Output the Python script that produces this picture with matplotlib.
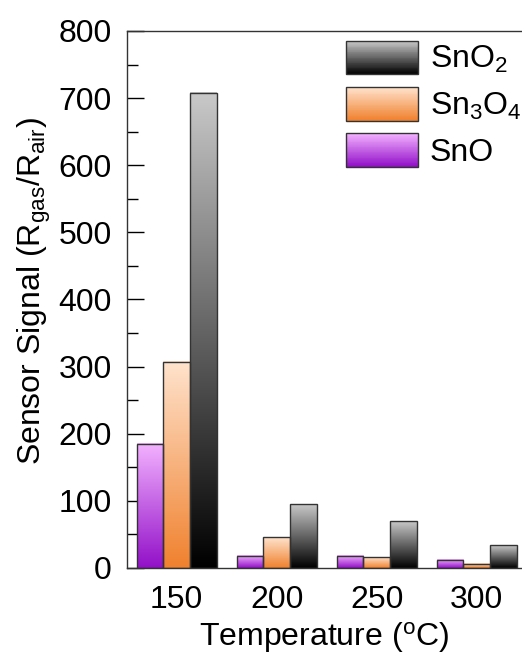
import numpy as np
import matplotlib
matplotlib.use("Agg")
import matplotlib.pyplot as plt
from matplotlib.colors import LinearSegmentedColormap
from matplotlib.patches import Rectangle
from matplotlib.legend_handler import HandlerBase
from matplotlib.ticker import MultipleLocator

temperatures = ["150", "200", "250", "300"]
sno_values = [185, 18, 18, 12]
sn3o4_values = [307, 46, 16, 6]
sno2_values = [708, 95, 70, 34]

series_labels = ["SnO", "Sn$_3$O$_4$", "SnO$_2$"]
series_values = [sno_values, sn3o4_values, sno2_values]
# (bottom colour, top colour) for each gradient
series_colors = [("#9210c8", "#f3b2ff"), ("#f0812e", "#ffe3cd"), ("#000000", "#c9c9c9")]

plt.rcParams["font.family"] = ["Liberation Sans", "DejaVu Sans"]
plt.rcParams["mathtext.fontset"] = "custom"
plt.rcParams["mathtext.rm"] = "Liberation Sans"
plt.rcParams["mathtext.it"] = "Liberation Sans"

FONT_SIZE = 23


class GradientHandler(HandlerBase):
    """Legend key drawn as a stack of thin strips to fake a vertical gradient."""

    def __init__(self, cmap, steps=40):
        super().__init__()
        self.cmap = cmap
        self.steps = steps

    def create_artists(self, legend, orig_handle, xdescent, ydescent,
                       width, height, fontsize, trans):
        artists = []
        step_h = height / self.steps
        for i in range(self.steps):
            strip = Rectangle((-xdescent, -ydescent + i * step_h), width, step_h * 1.05,
                              facecolor=self.cmap(i / (self.steps - 1)),
                              edgecolor="none", transform=trans)
            artists.append(strip)
        outline = Rectangle((-xdescent, -ydescent), width, height, facecolor="none",
                            edgecolor="#333333", linewidth=1.0, transform=trans)
        artists.append(outline)
        return artists


fig = plt.figure(figsize=(5.22, 6.57), dpi=100)
ax = fig.add_axes([0.2433, 0.1355, 0.7567, 0.8174])

x = np.arange(len(temperatures))
bar_width = 0.267
offsets = [-bar_width, 0, bar_width]
gradient = np.linspace(0, 1, 256).reshape(-1, 1)

handles = []
handler_map = {}
for label, values, (c_low, c_high), offset in zip(series_labels, series_values,
                                                   series_colors, offsets):
    cmap = LinearSegmentedColormap.from_list(label, [c_low, c_high])
    bars = ax.bar(x + offset, values, width=bar_width, facecolor="none",
                  edgecolor="#333333", linewidth=1.0, zorder=3)
    for bar in bars:
        bx, by = bar.get_x(), bar.get_y()
        bw, bh = bar.get_width(), bar.get_height()
        ax.imshow(gradient, cmap=cmap, origin="lower", aspect="auto",
                  extent=(bx, bx + bw, by, by + bh), zorder=2)
    handles.append(bars)
    handler_map[bars] = GradientHandler(cmap)

ax.set_xlim(-0.497, 3.453)
ax.set_ylim(0, 800)
ax.set_xticks(x)
ax.set_xticklabels(temperatures)
ax.yaxis.set_major_locator(MultipleLocator(100))
ax.yaxis.set_minor_locator(MultipleLocator(50))
ax.tick_params(axis="y", which="major", direction="in", length=12, width=1,
               labelsize=FONT_SIZE, pad=11)
ax.tick_params(axis="y", which="minor", direction="in", length=8, width=1)
ax.tick_params(axis="x", length=0, labelsize=FONT_SIZE, pad=12)
ax.spines["right"].set_visible(False)
for side in ["left", "top", "bottom"]:
    ax.spines[side].set_linewidth(1.0)
    ax.spines[side].set_color("#333333")

ax.set_ylabel("Sensor Signal (R$_{gas}$/R$_{air}$)", fontsize=FONT_SIZE)
ax.yaxis.set_label_coords(-0.188, 0.515)
ax.set_xlabel("Temperature ($^{o}$C)", fontsize=FONT_SIZE, labelpad=4)

ax.legend(handles[::-1], series_labels[::-1], handler_map=handler_map,
          loc="upper left", bbox_to_anchor=(0.555, 0.982), frameon=False,
          fontsize=FONT_SIZE, handlelength=2.26, handleheight=1.25,
          labelspacing=0.36, handletextpad=0.35, borderaxespad=0.0,
          borderpad=0.0)

fig.savefig("out.png", dpi=100)
